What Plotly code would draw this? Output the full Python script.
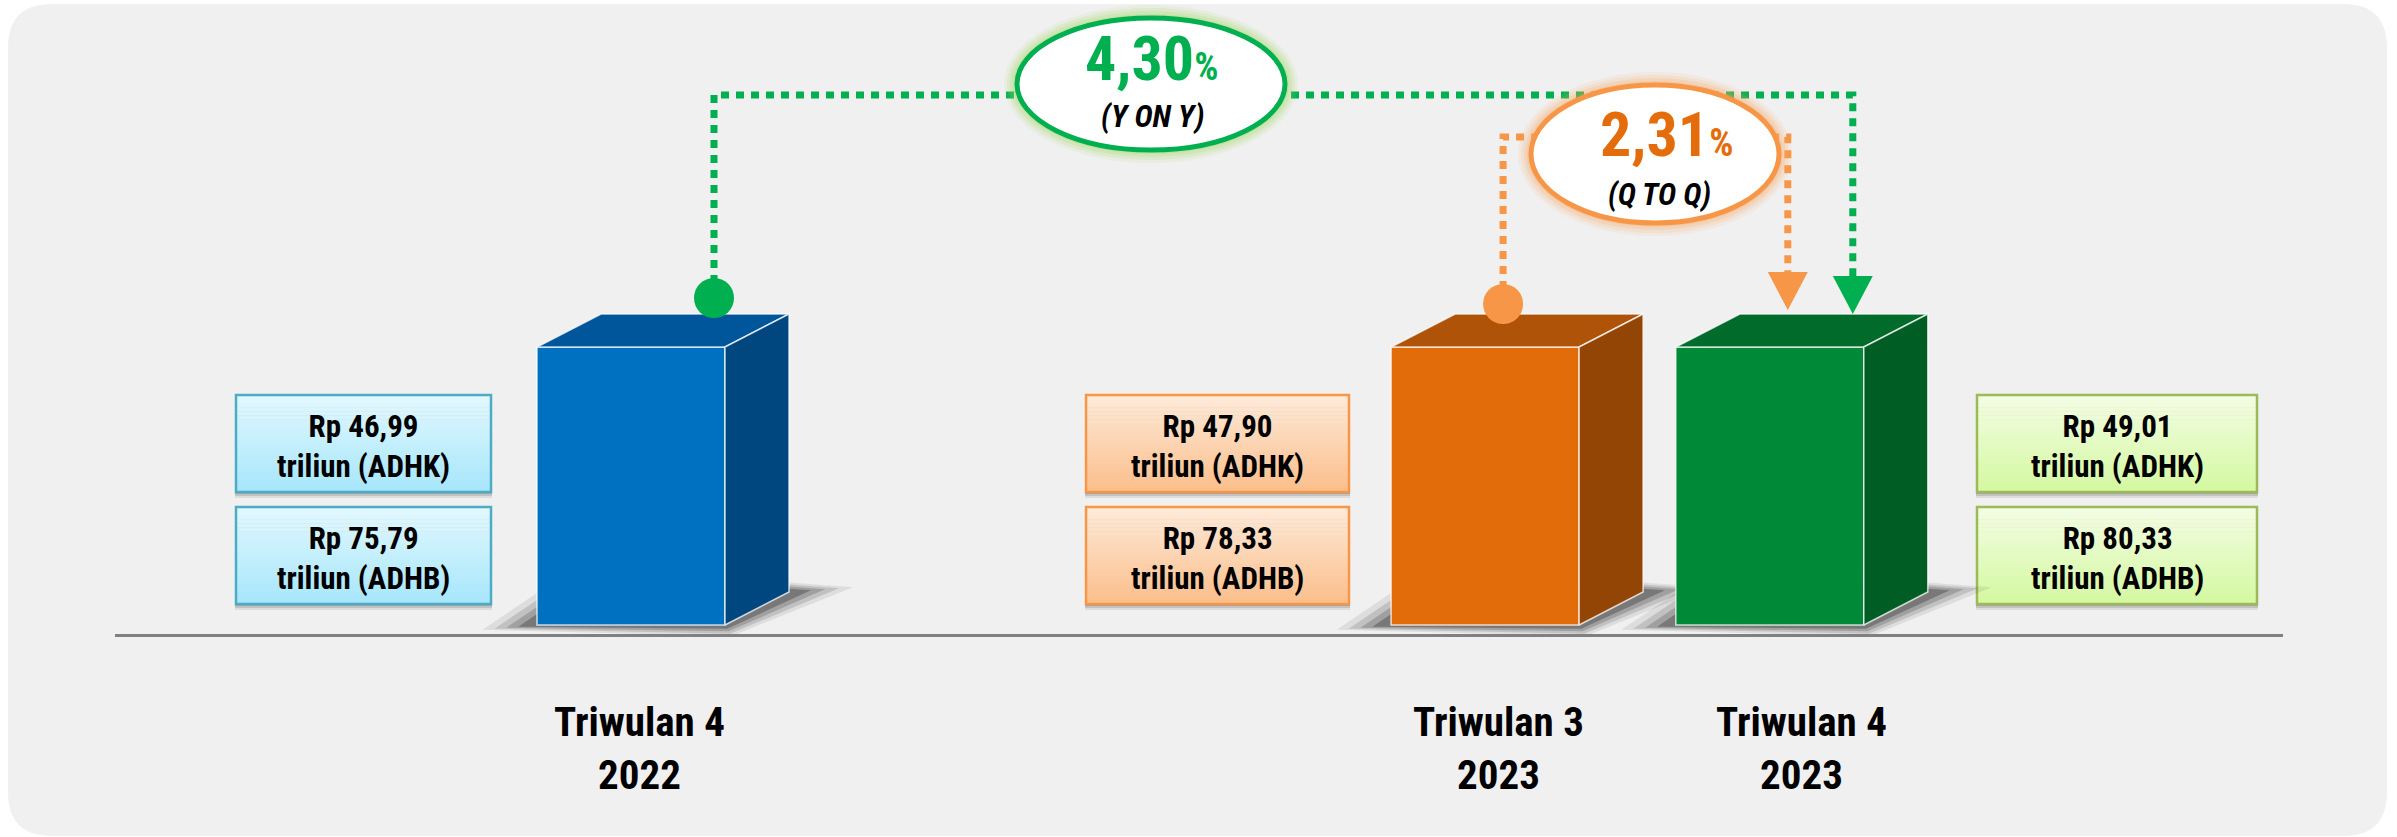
import plotly.graph_objects as go

# ---------------- data ----------------
categories = ["Triwulan 4<br>2022", "Triwulan 3<br>2023", "Triwulan 4<br>2023"]
adhk_triliun = [46.99, 47.90, 49.01]      # Rp triliun, constant prices
adhb_triliun = [75.79, 78.33, 80.33]      # Rp triliun, current prices
bar_height_drawn = [1.0, 1.0, 1.0]        # the infographic draws the three blocks at equal height
growth_yoy = 4.30
growth_qtq = 2.31
yoy_label = "(Y ON Y)"
qtq_label = "(Q TO Q)"

# ---------------- layout / style ----------------
W, H = 2397, 837
FONT = "Roboto Condensed, Archivo Narrow, Liberation Sans, sans-serif"
slot = [0, 3, 4]                 # horizontal slots (gap between 2022 and 2023)
U, V = 284.7, 278.0              # px per slot, px per height unit
PLOT_L, PLOT_R, PLOT_T, PLOT_B = 115, 2283, 40, 634
X0_PX, BASE_PX = 631, 625
BW = 188 / U
DX, DY = 64 / U, 33 / V

front = ["#0070C0", "#E36C0A", "#008A37"]
topc = ["#00569B", "#AF5308", "#006B2A"]
sidec = ["#00467F", "#934506", "#005D23"]
GREEN, ORANGE, ORANGE_TXT = "#00B050", "#F79646", "#E46C0A"
EDGE = "rgba(255,255,255,0.75)"

box_x = [(236, 491), (1086, 1349), (1977, 2257)]
box_rows = [(395, 492), (507, 604)]
box_style = [
    dict(border="#4BACC6", c0=(227, 248, 254), c1=(166, 230, 251)),
    dict(border="#F79646", c0=(253, 234, 218), c1=(251, 190, 138)),
    dict(border="#9BBB59", c0=(243, 253, 228), c1=(212, 248, 160)),
]
label_xshift = [8, 13, 32]


def fmt(v):
    return f"{v:.2f}".replace(".", ",")


def px(x):
    return x / W


def py(y):
    return 1 - y / H


fig = go.Figure()
shapes = []
annotations = []

# background panel with rounded corners
x0, x1, y0, y1, r = 8, 2387, 4, 836, 44
path = (f"M{px(x0 + r)},{py(y0)} L{px(x1 - r)},{py(y0)} Q{px(x1)},{py(y0)} {px(x1)},{py(y0 + r)} "
        f"L{px(x1)},{py(y1 - r)} Q{px(x1)},{py(y1)} {px(x1 - r)},{py(y1)} "
        f"L{px(x0 + r)},{py(y1)} Q{px(x0)},{py(y1)} {px(x0)},{py(y1 - r)} "
        f"L{px(x0)},{py(y0 + r)} Q{px(x0)},{py(y0)} {px(x0 + r)},{py(y0)} Z")
shapes.append(dict(type="path", xref="paper", yref="paper", path=path,
                   fillcolor="#F0F0F0", line=dict(width=0), layer="below"))

# bar shadows (axis-referenced shapes, drawn beneath the traces)
for i, s in enumerate(slot):
    xl, xr = s - BW / 2, s + BW / 2
    for k, a in [(1.6, 0.09), (1.25, 0.14), (0.9, 0.20), (0.55, 0.30)]:
        xs = [xl - k * 34 / U, xr + k * 4 / U, xr + DX + k * 40 / U, xr + DX, xl]
        ys = [-k * 3 / V, -k * 7 / V, DY + k * 3 / V, DY + k * 6 / V, k * 20 / V]
        p = "M" + " L".join(f"{a_},{b_}" for a_, b_ in zip(xs, ys)) + " Z"
        shapes.append(dict(type="path", xref="x", yref="y", path=p,
                           fillcolor=f"rgba(30,30,30,{a})", line=dict(width=0), layer="below"))

# front faces
fig.add_trace(go.Bar(x=slot, y=bar_height_drawn, width=BW, marker_color=front,
                     marker_line=dict(color=EDGE, width=1.5), hoverinfo="skip"))

# top and side faces
for i, s in enumerate(slot):
    L = bar_height_drawn[i]
    xl, xr = s - BW / 2, s + BW / 2
    fig.add_trace(go.Scatter(x=[xl, xr, xr + DX, xl + DX, xl], y=[L, L, L + DY, L + DY, L],
                             fill="toself", mode="lines", fillcolor=topc[i],
                             line=dict(color=EDGE, width=1.5), hoverinfo="skip"))
    fig.add_trace(go.Scatter(x=[xr, xr + DX, xr + DX, xr, xr], y=[0, DY, L + DY, L, 0],
                             fill="toself", mode="lines", fillcolor=sidec[i],
                             line=dict(color=EDGE, width=1.5), hoverinfo="skip"))

# connectors (dot on source block -> dotted elbow -> arrow on target block)
connectors = [
    dict(src=0, dst=2, off=83, yh=95, color=GREEN, lift=16, tip=0),
    dict(src=1, dst=2, off=18, yh=137, color=ORANGE, lift=10, tip=4),
]
for c in connectors:
    xs_ = slot[c["src"]] + c["off"] / U
    xd_ = slot[c["dst"]] + c["off"] / U
    yh = (BASE_PX - c["yh"]) / V
    ydot = bar_height_drawn[c["src"]] + DY + c["lift"] / V
    ytip = bar_height_drawn[c["dst"]] + DY + c["tip"] / V
    ybase = ytip + 38 / V
    fig.add_trace(go.Scatter(x=[xs_, xs_, xd_, xd_], y=[ydot, yh, yh, ybase], mode="lines",
                             line=dict(color=c["color"], width=7, dash="8px,7px"),
                             hoverinfo="skip"))
    fig.add_trace(go.Scatter(x=[xs_], y=[ydot], mode="markers",
                             marker=dict(size=40, color=c["color"], line=dict(width=0)),
                             hoverinfo="skip"))
    hw = 20 / U
    fig.add_trace(go.Scatter(x=[xd_ - hw, xd_ + hw, xd_, xd_ - hw], y=[ybase, ybase, ytip, ybase],
                             fill="toself", mode="lines", fillcolor=c["color"],
                             line=dict(width=0), hoverinfo="skip"))

# value boxes
for i in range(3):
    bl, br = box_x[i]
    st = box_style[i]
    texts = [f"<b>Rp {fmt(adhk_triliun[i])}<br>triliun (ADHK)</b>",
             f"<b>Rp {fmt(adhb_triliun[i])}<br>triliun (ADHB)</b>"]
    for (bt, bb), txt in zip(box_rows, texts):
        for dy_, a in [(6, 0.08), (4, 0.12), (2, 0.15)]:
            shapes.append(dict(type="rect", xref="paper", yref="paper",
                               x0=px(bl - 1), x1=px(br + 1), y0=py(bb + dy_), y1=py(bt + dy_),
                               fillcolor=f"rgba(0,0,0,{a})", line=dict(width=0), layer="below"))
        n = 24
        for k in range(n):
            t = (k + 0.5) / n
            col = tuple(round(st["c0"][j] + (st["c1"][j] - st["c0"][j]) * t) for j in range(3))
            ya = bt + (bb - bt) * k / n
            yb = bt + (bb - bt) * (k + 1) / n + 0.6
            shapes.append(dict(type="rect", xref="paper", yref="paper",
                               x0=px(bl), x1=px(br), y0=py(yb), y1=py(ya),
                               fillcolor=f"rgb{col}", line=dict(width=0), layer="below"))
        shapes.append(dict(type="rect", xref="paper", yref="paper",
                           x0=px(bl), x1=px(br), y0=py(bb), y1=py(bt),
                           line=dict(color=st["border"], width=2.5), layer="below"))
        annotations.append(dict(xref="paper", yref="paper", x=px((bl + br) / 2), y=py((bt + bb) / 2 + 3),
                                text=txt, showarrow=False, xanchor="center", yanchor="middle",
                                font=dict(family=FONT, size=31, color="#000000")))

# growth ellipses
ellipses = [
    dict(x0=1017, x1=1285, y0=18, y1=150, line=GREEN, glow="#9BD85A",
         num=fmt(growth_yoy), numc=GREEN, sub=yoy_label, nx=1151, ny=58.5, sx=1152, sy=117),
    dict(x0=1531, x1=1779, y0=85, y1=223, line=ORANGE, glow="#F9A865",
         num=fmt(growth_qtq), numc=ORANGE_TXT, sub=qtq_label, nx=1666, ny=134.5, sx=1659, sy=194),
]
for e in ellipses:
    for pad, a in [(13, 0.10), (10, 0.14), (7, 0.18), (4, 0.25)]:
        shapes.append(dict(type="circle", xref="paper", yref="paper",
                           x0=px(e["x0"] - pad), x1=px(e["x1"] + pad),
                           y0=py(e["y1"] + pad), y1=py(e["y0"] - pad),
                           fillcolor=e["glow"], opacity=a, line=dict(width=0), layer="above"))
    shapes.append(dict(type="circle", xref="paper", yref="paper",
                       x0=px(e["x0"]), x1=px(e["x1"]), y0=py(e["y1"]), y1=py(e["y0"]),
                       fillcolor="white", line=dict(color=e["line"], width=5), layer="above"))
    annotations.append(dict(xref="paper", yref="paper", x=px(e["nx"]), y=py(e["ny"]),
                            text=f"<b>{e['num']}<span style='font-size:38px'>%</span></b>",
                            showarrow=False, xanchor="center", yanchor="middle",
                            font=dict(family=FONT, size=62, color=e["numc"])))
    annotations.append(dict(xref="paper", yref="paper", x=px(e["sx"]), y=py(e["sy"]),
                            text=f"<b><i>{e['sub']}</i></b>",
                            showarrow=False, xanchor="center", yanchor="middle",
                            font=dict(family=FONT, size=31, color="#000000")))

# category labels
for i, s in enumerate(slot):
    annotations.append(dict(xref="x", yref="paper", x=s, y=py(748), xshift=label_xshift[i],
                            text=f"<b>{categories[i]}</b>", showarrow=False,
                            xanchor="center", yanchor="middle",
                            font=dict(family=FONT, size=41, color="#000000")))

fig.update_layout(
    width=W, height=H, margin=dict(l=0, r=0, t=0, b=0),
    paper_bgcolor="white", plot_bgcolor="rgba(0,0,0,0)",
    showlegend=False, hovermode=False,
    xaxis=dict(domain=[PLOT_L / W, PLOT_R / W],
               range=[(PLOT_L - X0_PX) / U, (PLOT_R - X0_PX) / U],
               showgrid=False, zeroline=False, showticklabels=False, ticks="",
               showline=True, linecolor="#808080", linewidth=3, fixedrange=True),
    yaxis=dict(domain=[1 - PLOT_B / H, 1 - PLOT_T / H],
               range=[-(PLOT_B - BASE_PX) / V, (BASE_PX - PLOT_T) / V],
               showgrid=False, zeroline=False, showticklabels=False, ticks="",
               showline=False, fixedrange=True),
    shapes=shapes, annotations=annotations,
)

fig.write_html("out.html", config={"displayModeBar": False},
               post_script="document.body.style.margin='0px';document.body.style.overflow='hidden';")
